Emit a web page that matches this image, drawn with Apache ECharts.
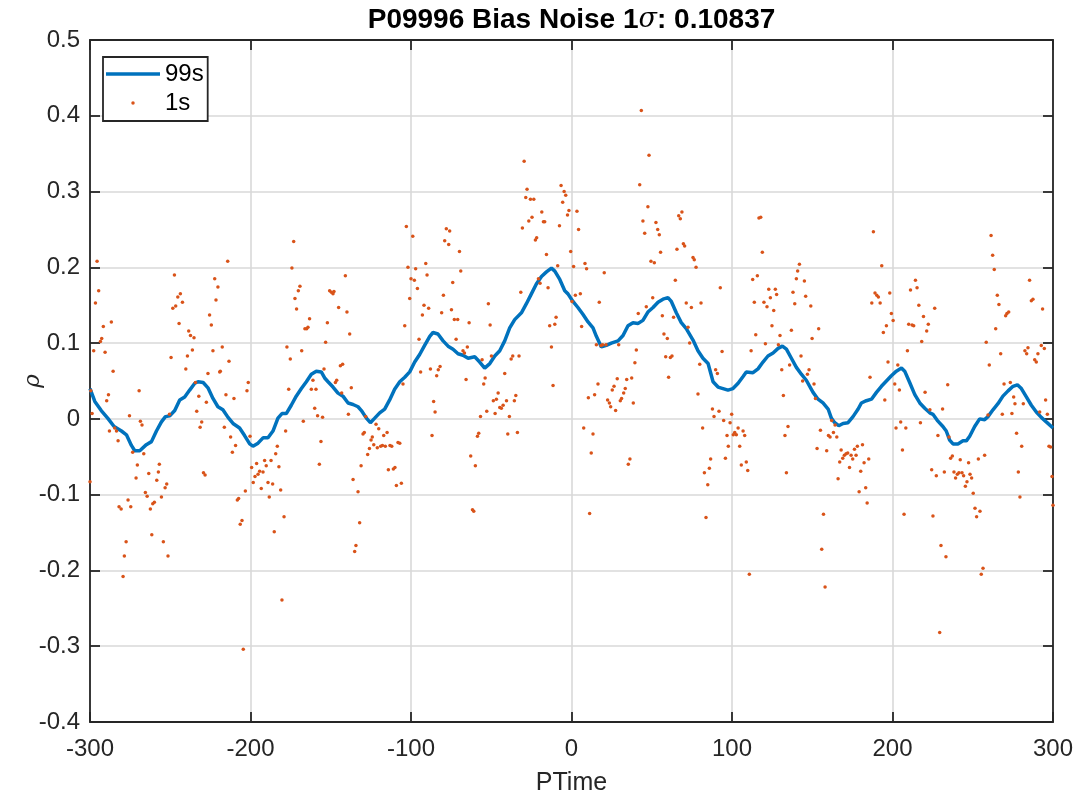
<!DOCTYPE html>
<html>
<head>
<meta charset="utf-8">
<script src="https://cdn.jsdelivr.net/npm/echarts@6/dist/echarts.min.js"></script>
<style>
  html, body { margin: 0; padding: 0; background: #fff; }
  #chart { width: 1083px; height: 801px; }
</style>
</head>
<body>
<div id="chart"></div>
<script>
// Axis ranges and ticks
const timeRange = [-300, 300];
const timeStep = 100;
const rhoRange = [-0.4, 0.5];
const rhoStep = 0.1;

// Series names (legend order)
const seriesNames = ['99s', '1s'];

// 99 s running average of rho vs PTime
const avg99s = [
  [-300,0.040],[-297,0.023],[-293,0.011],[-289,0.001],[-285,-0.010],[-280.4,-0.016],[-277.3,-0.021],
  [-274.2,-0.035],[-272.1,-0.042],[-269,-0.042],[-264.9,-0.034],[-261.7,-0.030],[-258.6,-0.016],
  [-255.5,-0.004],[-253,0.003],[-250.3,0.004],[-247.2,0.011],[-244.1,0.025],[-241,0.029],[-237.9,0.038],
  [-234.7,0.047],[-232.7,0.049],[-229.5,0.048],[-226.5,0.041],[-223.4,0.027],[-220.3,0.016],[-217.2,0.012],
  [-214,0.002],[-210.9,-0.006],[-206.8,-0.012],[-203.7,-0.022],[-200.5,-0.033],[-198.5,-0.036],
  [-195.3,-0.032],[-192.2,-0.025],[-189.1,-0.025],[-186,-0.016],[-182.9,0.001],[-180.4,0.007],
  [-177.7,0.007],[-174.6,0.018],[-171.5,0.030],[-168.3,0.040],[-165.2,0.049],[-162.1,0.059],[-159,0.063],
  [-155.9,0.062],[-153.8,0.054],[-151.7,0.049],[-148.6,0.042],[-145.5,0.034],[-142.4,0.030],[-139.2,0.021],
  [-136.1,0.019],[-133,0.016],[-130.9,0.011],[-127.8,0.001],[-125.3,-0.005],[-122.6,0.001],[-119.5,0.008],
  [-116.4,0.013],[-113.3,0.025],[-110.2,0.039],[-107,0.049],[-103.9,0.055],[-100.8,0.062],[-97.7,0.075],
  [-94.6,0.085],[-91.5,0.097],[-88.3,0.109],[-86.3,0.114],[-83.2,0.112],[-80,0.103],[-76.9,0.096],
  [-73.8,0.092],[-70.7,0.086],[-67.6,0.084],[-64.4,0.080],[-60.3,0.082],[-57.2,0.075],[-54.1,0.067],
  [-50.9,0.073],[-47.8,0.083],[-44.7,0.090],[-41.6,0.103],[-38.5,0.120],[-35.4,0.131],[-31.2,0.140],
  [-28.1,0.152],[-25,0.165],[-21.9,0.178],[-18.7,0.188],[-15.6,0.194],[-12.5,0.199],[-10.4,0.195],
  [-7.3,0.184],[-4.2,0.169],[-2.2,0.165],[0.9,0.155],[4,0.147],[7.1,0.138],[10.3,0.128],[13.4,0.120],
  [15.5,0.109],[18.6,0.095],[21.7,0.097],[24.8,0.100],[29,0.103],[32.1,0.110],[35.2,0.123],[38.3,0.127],
  [41.4,0.126],[44.5,0.130],[47.6,0.141],[50.8,0.147],[53.9,0.154],[57,0.158],[60.1,0.160],[62.2,0.155],
  [65.3,0.140],[68.4,0.127],[71.5,0.119],[75.7,0.104],[78.8,0.090],[81.9,0.080],[85.1,0.073],[88.2,0.049],
  [91.3,0.042],[94.4,0.040],[97.5,0.038],[100.6,0.040],[103.8,0.047],[106.9,0.056],[108.9,0.062],
  [113.1,0.061],[116.2,0.066],[119.3,0.075],[122.4,0.083],[125.6,0.087],[128.7,0.093],[131.4,0.096],
  [133.9,0.092],[137,0.080],[140.1,0.068],[143.2,0.059],[146.3,0.051],[150.5,0.035],[153.6,0.026],
  [156.7,0.021],[159.9,0.013],[161.9,0.001],[164,-0.005],[166.5,-0.009],[169.2,-0.006],[172.3,-0.005],
  [175.4,0.003],[178.6,0.013],[180.6,0.021],[183.7,0.024],[186.9,0.026],[190,0.035],[193.1,0.043],
  [196.2,0.050],[199.3,0.057],[202.4,0.063],[205.6,0.067],[207.6,0.063],[210.7,0.048],[213.9,0.032],
  [217,0.021],[220.1,0.014],[223.2,0.008],[225.2,0.006],[228.3,-0.003],[231.4,-0.010],[233.5,-0.016],
  [235.6,-0.028],[237.7,-0.033],[240.8,-0.033],[243.9,-0.029],[246,-0.029],[248.1,-0.023],[251.2,-0.010],
  [254.3,0.000],[257.4,-0.001],[259.5,0.003],[262.6,0.012],[265.7,0.020],[268.8,0.030],[272,0.037],
  [275.1,0.043],[277.8,0.045],[280.3,0.040],[283.4,0.029],[286.5,0.018],[289.6,0.009],[292.7,0.002],
  [295.8,-0.004],[300,-0.012]
];

// 1 s samples of rho vs PTime
const samples1s = [
  [-300,-0.083],[-299.5,0.037],[-298.7,0.007],[-297.7,0.090],[-296.6,0.153],[-295.6,0.208],[-294.6,0.169],
  [-293.5,0.102],[-292.7,0.106],[-291.7,0.122],[-290.6,0.088],[-289.6,0.024],[-288.5,0.032],[-287.9,-0.016],
  [-286.7,0.128],[-285.6,0.063],[-284.6,-0.012],[-283.5,-0.016],[-282.5,-0.029],[-281.9,-0.116],[-280.6,-0.119],
  [-279.4,-0.208],[-278.6,-0.181],[-277.5,-0.162],[-276.3,-0.107],[-275.4,0.004],[-274.6,-0.116],[-273.4,-0.044],
  [-271.3,-0.078],[-270.5,-0.061],[-269.4,0.037],[-268.6,-0.003],[-267.6,-0.008],[-266.5,-0.046],[-265.5,-0.097],
  [-264.4,-0.102],[-263.4,-0.072],[-262.4,-0.119],[-261.5,-0.153],[-260.9,-0.112],[-259.9,-0.110],[-258.4,-0.081],
  [-257.4,-0.070],[-256.8,-0.060],[-255.5,-0.103],[-254.3,-0.162],[-253.2,-0.091],[-252.2,-0.086],[-251.4,-0.181],
  [-250.5,0.006],[-249.5,0.081],[-248.4,0.146],[-247.4,0.190],[-246.6,0.149],[-245.3,0.161],[-244.5,0.126],
  [-243.7,0.165],[-242.4,0.154],[-240.3,0.066],[-239.3,0.083],[-238.5,0.116],[-237.4,0.110],[-236.2,0.091],
  [-235.2,0.107],[-234.3,0.048],[-233.5,0.010],[-232.2,0.030],[-231.4,-0.011],[-230.4,-0.004],[-229.3,-0.071],
  [-228.3,-0.074],[-227.5,0.022],
  [-226.5,0.060],[-225.5,0.137],[-224.4,0.124],[-223.4,0.090],[-222.3,0.185],[-221.5,0.157],[-220.3,0.174],
  [-219.2,0.062],[-218.8,0.063],[-217.6,0.095],[-216.3,-0.011],[-215.3,0.032],[-214.2,0.208],[-213.4,0.076],
  [-212.4,-0.024],[-211.3,-0.044],[-210.3,0.027],[-209.3,-0.035],[-208.2,-0.107],[-207.4,-0.105],[-206.4,-0.139],
  [-205.3,-0.134],[-204.5,-0.304],[-203.2,-0.095],[-202.2,0.037],[-201.4,0.048],[-200.3,-0.023],[-199.3,-0.064],
  [-198.3,-0.084],[-197.2,-0.076],[-196.2,-0.059],[-195.3,-0.073],[-194.3,-0.069],[-193.3,-0.092],[-192.2,-0.070],
  [-191.2,-0.055],[-190.2,-0.062],[-189.1,-0.084],[-188.3,-0.103],[-187.2,-0.055],[-186.2,-0.086],[-185.2,-0.149],
  [-184.3,-0.046],[-183.3,-0.036],[-182.3,-0.063],[-181.2,-0.094],[-180.4,-0.239],[-179.1,-0.129],[-178.1,-0.016],
  [-177.3,0.095],[-176.2,0.039],[-175.2,0.079],[-174.2,0.199],[-173.1,0.234],[-172.3,0.159],[-171.3,0.145],
  [-170.2,0.169],[-169.2,0.175],[-168.1,0.090],[-167.1,-0.003],[-166.1,0.119],[-165.0,0.119],[-164.2,0.121],
  [-163.2,0.132],[-162.1,0.039],[-161.1,0.051],[-160.0,0.014],[-159.2,0.039],[-158.2,0.004],[-157.1,-0.060],
  [-156.1,-0.030],[-155.1,0.002],[-154.2,0.066],[-153.2,0.101],[-152.1,0.127],
  [-150.7,0.169],[-149.6,0.167],[-148.6,0.165],[-148.0,0.168],[-147.1,0.048],[-146.3,0.051],[-145.1,0.147],
  [-144.0,0.070],[-143.2,0.034],[-142.6,0.072],[-140.9,0.189],[-139.9,0.141],[-139.0,0.006],[-138.2,0.112],
  [-137.2,0.041],[-136.1,-0.080],[-135.1,-0.175],[-134.3,-0.167],[-133.0,-0.096],[-132.0,-0.137],[-131.1,-0.062],
  [-129.9,-0.020],[-129.1,-0.018],[-128.2,0.003],[-127.0,-0.047],[-125.9,-0.039],[-124.9,-0.028],[-124.1,-0.024],
  [-123.2,-0.034],[-121.8,-0.007],[-121.0,-0.038],[-120.1,-0.013],[-118.9,-0.036],[-117.8,-0.035],[-117.0,-0.022],
  [-116.0,-0.036],[-114.9,-0.018],[-114.1,-0.067],[-113.1,-0.035],[-112.0,-0.036],[-111.0,-0.066],[-110.0,-0.064],
  [-109.1,-0.088],[-108.1,-0.031],[-107.0,-0.032],[-106.0,-0.085],[-105.0,0.046],[-103.9,0.123],[-102.9,0.254],
  [-101.9,0.200],[-100.8,0.159],[-100.0,0.185],[-98.9,0.241],[-97.9,0.183],[-97.1,0.198],[-96.0,0.172],
  [-95.0,0.105],[-94.0,0.062],[-92.9,0.137],[-91.9,0.150],[-90.8,0.205],[-90.0,0.190],[-89.0,0.146],
  [-87.9,0.066],[-86.9,-0.022],[-85.9,0.023],[-85.0,0.009],[-84.0,0.057],[-83.0,0.065],[-81.9,0.069],
  [-80.9,0.140],[-79.8,0.163],[-79.0,0.235],[-78.0,0.251],
  [-76.5,0.230],[-75.9,0.248],[-74.8,0.144],[-74.0,0.180],[-73.0,0.131],[-71.9,0.105],[-70.9,0.131],
  [-69.8,0.221],[-69.0,0.195],[-67.6,0.090],[-66.7,0.087],[-65.7,0.052],[-64.9,0.095],[-63.8,0.127],
  [-62.8,-0.049],[-61.7,-0.120],[-60.9,-0.122],[-59.9,-0.062],[-58.6,-0.023],[-57.8,-0.019],[-56.7,0.003],
  [-55.7,0.078],[-54.7,0.046],[-53.8,0.054],[-52.8,0.010],[-51.8,0.152],[-50.7,0.124],[-49.9,0.083],
  [-48.7,0.024],[-47.6,0.007],[-46.8,0.026],[-45.7,0.034],[-44.7,0.015],[-43.7,0.014],[-42.6,0.018],
  [-41.6,0.060],[-40.5,0.024],[-39.7,-0.020],[-38.7,0.003],[-37.6,0.079],[-36.6,0.083],[-35.6,0.024],
  [-34.7,0.031],[-33.7,-0.018],[-32.7,0.083],[-31.6,0.167],[-30.6,0.252],[-29.5,0.340],[-28.5,0.292],
  [-27.7,0.303],[-26.6,0.261],[-25.6,0.290],[-24.6,0.266],[-23.5,0.290],[-22.5,0.236],[-21.7,0.239],
  [-20.6,0.185],[-19.6,0.179],[-18.5,0.273],[-17.5,0.260],[-16.7,0.260],[-15.6,0.217],[-14.6,0.173],
  [-13.6,0.123],[-12.5,0.095],[-11.5,0.044],[-10.4,0.125],[-9.6,0.134],[-8.6,0.202],[-7.5,0.255],
  [-6.5,0.308],[-5.5,0.286],[-4.6,0.300],[-3.6,0.295],[-2.5,0.269],
  [-1.6,0.275],[-0.5,0.221],[0.3,0.155],[1.3,0.201],[2.4,0.163],[3.4,0.274],[4.4,0.250],[5.5,0.165],
  [6.3,0.122],[7.6,-0.012],[8.4,0.205],[9.4,0.198],[10.5,0.028],[11.3,-0.125],[12.3,-0.045],[13.4,-0.020],
  [14.4,0.032],[15.5,0.098],[16.5,0.046],[17.3,0.154],[18.4,0.097],[19.4,0.098],[20.4,0.193],[21.5,0.098],
  [22.5,0.025],[23.6,0.021],[24.4,0.016],[25.4,0.038],[26.5,0.043],[27.5,0.011],[28.5,0.053],[29.4,0.098],
  [30.4,0.024],[31.2,0.027],[32.5,0.034],[33.5,0.040],[34.4,0.052],[35.4,-0.060],[36.4,-0.053],[37.5,0.054],
  [38.5,0.021],[39.5,0.074],[40.4,0.091],[41.6,0.139],[42.5,0.309],[43.5,0.407],[44.5,0.261],[45.6,0.245],
  [46.6,0.148],[47.6,0.280],[48.3,0.348],[49.5,0.208],[50.6,0.160],[51.6,0.206],[52.6,0.259],[53.7,0.250],
  [54.7,0.243],[55.5,0.220],[56.6,0.136],[57.6,0.112],[58.7,0.082],[59.7,0.106],[60.5,0.055],[61.6,0.081],
  [62.6,0.083],[63.6,0.134],[64.7,0.183],[65.7,0.224],[66.8,0.268],[67.8,0.264],[68.8,0.273],[69.7,0.231],
  [70.5,0.228],[71.5,0.153],
  [72.6,0.121],[73.6,0.100],[74.7,0.147],[75.7,0.213],[76.5,0.210],[77.6,0.200],[78.8,0.033],[79.9,0.072],
  [80.7,0.153],[81.7,-0.012],[82.8,-0.071],[83.8,-0.130],[84.9,-0.087],[85.9,-0.065],[86.7,-0.053],[87.8,0.013],
  [88.8,0.003],[89.8,0.065],[90.9,0.060],[91.9,0.010],[92.7,0.173],[93.8,0.089],[94.8,-0.002],[95.9,-0.052],
  [96.9,-0.022],[97.7,-0.036],[98.8,-0.005],[99.8,0.006],[100.8,-0.021],[101.7,-0.018],[102.7,-0.021],
  [103.8,-0.012],[104.8,-0.036],[105.8,-0.061],[106.9,-0.016],[107.9,-0.022],[108.9,-0.057],[109.8,-0.068],
  [110.8,-0.205],[111.9,0.090],[112.9,0.184],[113.9,0.154],[114.8,0.111],[115.8,0.189],[116.8,0.265],
  [117.9,0.266],[118.9,0.220],[119.9,0.154],[120.8,0.099],[121.8,0.148],[122.9,0.171],[123.9,0.160],
  [124.9,0.123],[126.0,0.143],[127.0,0.171],[127.8,0.164],[128.9,0.098],[129.9,0.110],[131.0,0.065],
  [132.0,0.031],[133.0,-0.022],[133.9,-0.071],[134.9,-0.010],[135.9,0.071],[137.0,0.117],[138.0,0.167],
  [139.1,0.152],[140.1,0.185],[140.9,0.195],[142.0,0.204],[143.0,0.083],[144.0,0.050],[145.1,0.182],
  [145.9,0.162],[147.0,0.059],
  [148.0,0.065],[149.1,0.149],[149.9,0.106],[151.1,0.046],[152.0,0.027],[153.0,-0.039],[154.0,0.119],
  [155.1,-0.015],[155.9,-0.172],[157.0,-0.126],[158.0,-0.222],[159.0,-0.042],[160.1,-0.022],[161.1,-0.024],
  [162.1,-0.002],[163.2,-0.018],[164.2,-0.008],[165.3,-0.024],[166.1,-0.079],[167.1,-0.057],[168.0,-0.041],
  [169.0,-0.052],[170.0,-0.048],[171.1,-0.046],[172.1,-0.045],[173.2,-0.064],[174.2,-0.048],[175.2,-0.053],
  [176.3,-0.040],[177.3,-0.048],[178.1,-0.036],[179.2,-0.096],[180.2,-0.069],[181.3,-0.034],[182.3,-0.058],
  [183.3,-0.091],[184.2,-0.111],[185.2,-0.053],[186.0,0.055],[187.1,0.153],[188.1,0.247],[189.1,0.166],
  [190.2,0.163],[191.2,0.161],[192.3,0.153],[193.3,0.202],[194.3,0.114],[195.2,0.025],[196.2,0.123],
  [197.2,0.075],[198.3,0.166],[199.3,0.139],[200.4,0.130],[201.4,0.046],[202.2,-0.012],[203.3,0.071],
  [204.3,0.038],[205.1,-0.004],[206.2,-0.041],[207.2,-0.126],[208.3,-0.012],[209.3,0.090],[210.1,0.125],
  [211.2,0.170],[212.2,0.124],[213.2,0.123],[214.3,0.183],[215.3,0.173],[216.4,0.150],[217.4,-0.005],
  [218.2,0.102],[219.3,0.135],[220.3,0.035],[221.3,0.116],
  [222.3,0.125],[223.3,0.012],[224.4,-0.067],[225.2,-0.128],[226.3,0.146],[227.3,-0.075],[228.3,-0.022],
  [229.4,-0.282],[230.2,-0.167],[231.2,0.013],[232.3,-0.070],[233.3,-0.182],[234.4,0.045],[235.2,-0.024],
  [236.2,-0.052],[237.3,-0.049],[238.3,-0.070],[239.3,-0.078],[240.4,-0.073],[241.4,-0.071],[242.2,-0.054],
  [243.3,-0.071],[244.3,-0.075],[245.4,-0.089],[246.4,-0.083],[247.4,-0.058],[248.3,-0.073],[249.3,-0.078],
  [250.3,-0.098],[251.4,-0.118],[252.4,-0.129],[253.5,-0.053],[254.5,-0.122],[255.3,-0.205],[256.4,-0.197],
  [257.4,-0.048],[258.4,0.101],[259.5,0.005],[260.3,0.071],[261.4,0.242],[262.4,0.216],[263.4,0.197],
  [264.3,0.119],[265.3,0.163],[266.3,0.151],[267.4,0.086],[268.4,0.006],[269.5,0.046],[270.5,0.136],
  [271.3,0.139],[272.4,0.141],[273.4,0.048],[274.4,0.007],[275.5,0.029],[276.3,0.020],[277.3,-0.019],
  [278.4,-0.070],[279.4,-0.103],[280.5,-0.036],[281.5,0.020],[282.5,0.090],[283.6,0.086],[284.4,0.094],
  [285.4,0.183],[286.5,0.156],[287.5,0.158],[288.6,0.078],[289.6,0.075],[290.6,0.086],[291.7,0.009],
  [292.7,0.097],[293.5,0.145],[294.6,0.093],[295.4,0.025],[296.5,0.006],[297.5,-0.036],[298.5,-0.037],
  [299.4,-0.076],[300,-0.114]
];

const AXIS_COLOR = '#262626';
const FONT = '"Liberation Sans", Arial, Helvetica, sans-serif';

const chart = echarts.init(document.getElementById('chart'), null, { renderer: 'canvas' });

function rhoLabel(v) {
  const r = Math.round(v * 10) / 10;
  return r === 0 ? '0' : String(r);
}

const boxLine = { show: true, onZero: false, lineStyle: { color: AXIS_COLOR, width: 1.8 } };
const innerTick = { show: true, inside: true, length: 10, lineStyle: { color: AXIS_COLOR, width: 1.8 } };
const gridLine = { show: true, lineStyle: { color: '#d9d9d9', width: 1.6 } };

chart.setOption({
  animation: false,
  backgroundColor: '#ffffff',
  grid: { left: 90, right: 30, top: 40, bottom: 79, containLabel: false, outerBoundsMode: 'none' },
  graphic: [{
    type: 'text',
    x: 571.5,
    y: 6,
    style: {
      text: '{b|P09996 Bias Noise 1}{s|σ}{b|: 0.10837}',
      align: 'center',
      verticalAlign: 'top',
      rich: {
        b: { fontFamily: FONT, fontWeight: 'bold', fontSize: 28, fill: '#000' },
        s: { fontFamily: '"DejaVu Serif", serif', fontStyle: 'italic', fontSize: 27, fill: '#000' }
      }
    }
  }],
  legend: {
    left: 103,
    top: 57,
    orient: 'vertical',
    data: [
      { name: seriesNames[0], icon: 'rect' },
      { name: seriesNames[1], icon: 'circle' }
    ],
    itemWidth: 54,
    itemHeight: 3.5,
    itemGap: 5,
    padding: [5, 4, 6, 3],
    borderColor: AXIS_COLOR,
    borderWidth: 1.8,
    borderRadius: 0,
    backgroundColor: '#ffffff',
    textStyle: { fontFamily: FONT, fontSize: 24, color: '#000' },
    selectedMode: false
  },
  xAxis: [{
    type: 'value',
    position: 'bottom',
    min: timeRange[0],
    max: timeRange[1],
    interval: timeStep,
    name: 'PTime',
    nameLocation: 'middle',
    nameGap: 49,
    nameMoveOverlap: false,
    nameTextStyle: { fontFamily: FONT, fontSize: 25, color: AXIS_COLOR },
    axisLine: boxLine,
    axisTick: innerTick,
    axisLabel: { fontFamily: FONT, fontSize: 24, color: AXIS_COLOR, margin: 15 },
    splitLine: gridLine
  }, {
    type: 'value',
    position: 'top',
    min: timeRange[0],
    max: timeRange[1],
    interval: timeStep,
    axisLine: boxLine,
    axisTick: innerTick,
    axisLabel: { show: false },
    splitLine: { show: false }
  }],
  yAxis: [{
    type: 'value',
    position: 'left',
    min: rhoRange[0],
    max: rhoRange[1],
    interval: rhoStep,
    name: 'ρ',
    nameLocation: 'middle',
    nameGap: 45,
    nameRotate: 90,
    nameMoveOverlap: false,
    nameTextStyle: { fontFamily: '"DejaVu Serif", serif', fontStyle: 'italic', fontSize: 23, color: AXIS_COLOR },
    axisLine: boxLine,
    axisTick: innerTick,
    axisLabel: { fontFamily: FONT, fontSize: 24, color: AXIS_COLOR, margin: 10, formatter: rhoLabel },
    splitLine: gridLine
  }, {
    type: 'value',
    position: 'right',
    min: rhoRange[0],
    max: rhoRange[1],
    interval: rhoStep,
    axisLine: boxLine,
    axisTick: innerTick,
    axisLabel: { show: false },
    splitLine: { show: false }
  }],
  series: [{
    name: seriesNames[0],
    type: 'line',
    xAxisIndex: 0,
    yAxisIndex: 0,
    data: avg99s,
    symbol: 'none',
    smooth: false,
    lineStyle: { color: '#0072BD', width: 3.5 },
    itemStyle: { color: '#0072BD' },
    z: 3
  }, {
    name: seriesNames[1],
    type: 'scatter',
    xAxisIndex: 0,
    yAxisIndex: 0,
    data: samples1s,
    symbol: 'circle',
    symbolSize: 3.5,
    itemStyle: { color: '#D95319', opacity: 1 },
    z: 4
  }]
});
</script>
</body>
</html>
